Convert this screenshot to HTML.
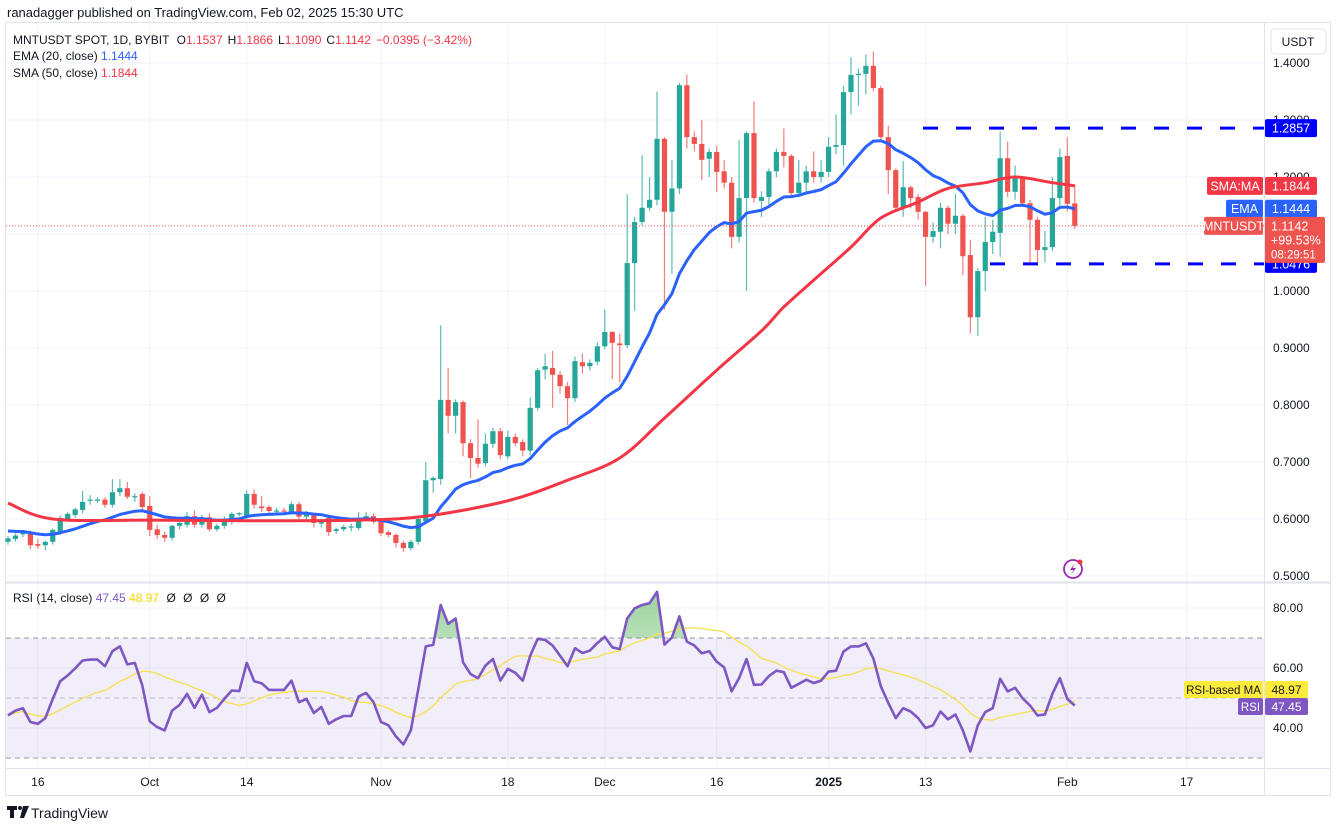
<!DOCTYPE html>
<html><head><meta charset="utf-8"><style>
html,body{margin:0;padding:0;background:#fff;}
svg{display:block;font-family:"Liberation Sans",sans-serif;}
</style></head><body>
<svg id="chart" width="1337" height="829" viewBox="0 0 1337 829" xmlns="http://www.w3.org/2000/svg">
<text x="7" y="17" font-size="13" fill="#131722">ranadagger published on TradingView.com, Feb 02, 2025 15:30 UTC</text>
<rect x="5.5" y="22.5" width="1325" height="773" fill="none" stroke="#e0e3eb"/>
<g id="grid"></g>
<rect x="6" y="638" width="1258" height="120" fill="#7e57c2" fill-opacity="0.1"/>
<line x1="6" y1="638" x2="1264" y2="638" stroke="#9598a1" stroke-dasharray="5,4"/>
<line x1="6" y1="698" x2="1264" y2="698" stroke="#9598a1" stroke-opacity="0.6" stroke-dasharray="5,4"/>
<line x1="6" y1="758" x2="1264" y2="758" stroke="#9598a1" stroke-dasharray="5,4"/>
<g id="candles"></g>
<g id="lines"></g>
<g id="rsi"></g>
<line x1="6" y1="582.5" x2="1330" y2="582.5" stroke="#e0e3eb" stroke-width="2"/>
<line x1="1264.5" y1="23" x2="1264.5" y2="795" stroke="#e0e3eb"/>
<line x1="6" y1="768.5" x2="1330" y2="768.5" stroke="#e0e3eb"/>
<g id="axes"></g>
<g font-size="12">
<text x="13" y="44" fill="#131722">MNTUSDT SPOT, 1D, BYBIT <tspan dx="4">O</tspan><tspan fill="#f23645">1.1537</tspan><tspan dx="5">H</tspan><tspan fill="#f23645">1.1866</tspan><tspan dx="5">L</tspan><tspan fill="#f23645">1.1090</tspan><tspan dx="5">C</tspan><tspan fill="#f23645">1.1142</tspan><tspan dx="5" fill="#f23645">−0.0395 (−3.42%)</tspan></text>
<text x="13" y="60" fill="#131722">EMA (20, close) <tspan fill="#2962ff">1.1444</tspan></text>
<text x="13" y="77" fill="#131722">SMA (50, close) <tspan fill="#f23645">1.1844</tspan></text>
<text x="13" y="602" fill="#131722">RSI (14, close) <tspan fill="#7e57c2">47.45</tspan> <tspan fill="#f5d800">48.97</tspan> <tspan dx="4">Ø</tspan> <tspan dx="4">Ø</tspan> <tspan dx="4">Ø</tspan> <tspan dx="4">Ø</tspan></text>
</g>
<rect x="1271" y="29" width="55" height="25" rx="4" fill="#fff" stroke="#e0e3eb"/>
<text x="1298" y="46" font-size="12" text-anchor="middle" fill="#131722">USDT</text>
<g>
<circle cx="1073" cy="569" r="9" fill="none" stroke="#9c27b0" stroke-width="1.8"/>
<path d="M1075 563 L1070 570 L1073.5 570 L1071 575 L1076 568 L1072.5 568 Z" fill="#9c27b0"/>
<circle cx="1080" cy="562" r="2.5" fill="#f23645"/>
</g>
<g>
<path d="M7 806 h10 v4 h-3 v8 h-4 v-8 h-3 z" fill="#131722"/>
<circle cx="20" cy="808" r="2" fill="#131722"/>
<path d="M23 806 h6 l-5 12 h-4 z" fill="#131722"/>
<text x="31" y="818" font-size="14" fill="#131722">TradingView</text>
</g>
</svg>
<script>
const opens=[.560,.565,.573,.577,.556,.554,.560,.577,.600,.607,.616,.633,.633,.634,.625,.647,.654,.639,.644,.623,.582,.572,.567,.588,.590,.605,.590,.603,.582,.588,.596,.609,.604,.644,.622,.621,.614,.615,.613,.626,.604,.607,.592,.602,.579,.582,.586,.584,.600,.605,.598,.577,.572,.558,.549,.560,.596,.668,.670,.809,.781,.805,.733,.707,.698,.732,.754,.710,.744,.735,.720,.795,.862,.865,.853,.833,.812,.875,.868,.876,.903,.928,.908,.905,1.049,1.121,1.146,1.160,1.267,1.139,1.180,1.361,1.270,1.258,1.232,1.244,1.210,1.190,1.095,1.163,1.277,1.158,1.165,1.210,1.244,1.237,1.172,1.190,1.210,1.200,1.209,1.253,1.256,1.349,1.379,1.381,1.395,1.356,1.270,1.212,1.146,1.182,1.165,1.139,1.095,1.104,1.146,1.118,1.132,1.063,.954,1.035,1.086,1.102,1.233,1.174,1.198,1.154,1.125,1.072,1.077,1.163,1.237,1.1537];
const highs=[.570,.575,.580,.580,.565,.562,.583,.606,.612,.620,.649,.642,.638,.638,.670,.670,.665,.645,.648,.640,.590,.578,.590,.597,.612,.615,.607,.610,.592,.605,.612,.612,.650,.652,.640,.624,.620,.620,.630,.630,.614,.610,.600,.606,.585,.590,.592,.612,.612,.610,.600,.580,.575,.562,.563,.605,.700,.675,.940,.865,.810,.808,.740,.775,.750,.760,.760,.755,.750,.740,.813,.865,.890,.895,.860,.840,.885,.890,.880,.910,.967,.930,.925,1.170,1.130,1.238,1.200,1.350,1.270,1.230,1.365,1.380,1.280,1.300,1.250,1.255,1.230,1.200,1.265,1.280,1.333,1.175,1.215,1.250,1.285,1.240,1.230,1.220,1.245,1.230,1.270,1.310,1.360,1.410,1.390,1.415,1.420,1.360,1.290,1.215,1.228,1.185,1.170,1.140,1.120,1.155,1.150,1.170,1.135,1.090,1.040,1.130,1.125,1.280,1.262,1.220,1.200,1.160,1.130,1.105,1.200,1.250,1.270,1.1866];
const lows=[.555,.560,.568,.547,.548,.545,.555,.572,.596,.602,.610,.625,.628,.620,.620,.640,.635,.630,.615,.570,.565,.560,.562,.582,.585,.585,.585,.578,.578,.583,.590,.605,.600,.618,.612,.606,.610,.608,.608,.600,.598,.585,.585,.570,.574,.578,.578,.580,.596,.592,.570,.568,.550,.542,.545,.555,.590,.646,.660,.750,.750,.710,.672,.690,.692,.725,.705,.705,.728,.710,.712,.790,.845,.795,.820,.765,.805,.855,.860,.870,.898,.845,.840,.900,.965,1.115,1.140,1.150,.967,1.030,1.170,1.250,1.245,1.195,1.200,1.174,1.180,1.075,1.085,1.000,1.155,1.130,1.150,1.200,1.217,1.165,1.165,1.170,1.190,1.190,1.200,1.240,1.220,1.310,1.325,1.345,1.350,1.265,1.170,1.140,1.130,1.145,1.125,1.009,1.085,1.075,1.100,1.100,1.028,.926,.921,1.000,1.065,1.060,1.165,1.160,1.150,1.050,1.050,1.050,1.070,1.150,1.140,1.109];
const closes=[.566,.571,.577,.554,.553,.560,.581,.602,.609,.617,.630,.634,.634,.625,.647,.654,.639,.640,.621,.581,.572,.567,.588,.593,.605,.590,.603,.582,.588,.600,.609,.610,.644,.625,.619,.614,.615,.614,.626,.604,.610,.593,.598,.577,.582,.586,.587,.602,.605,.595,.575,.572,.558,.549,.560,.600,.668,.672,.809,.781,.805,.733,.707,.697,.732,.754,.712,.744,.733,.720,.795,.861,.868,.853,.833,.812,.877,.868,.874,.903,.928,.909,.905,1.049,1.121,1.146,1.160,1.267,1.139,1.180,1.361,1.270,1.258,1.230,1.244,1.209,1.190,1.095,1.163,1.277,1.163,1.165,1.210,1.244,1.237,1.172,1.190,1.210,1.200,1.209,1.253,1.256,1.349,1.379,1.381,1.395,1.356,1.270,1.212,1.146,1.182,1.163,1.139,1.095,1.105,1.146,1.118,1.132,1.061,.954,1.035,1.086,1.104,1.233,1.174,1.198,1.154,1.125,1.072,1.077,1.163,1.235,1.153,1.1142];
const smaIdx=[0,6,19,32,47,56,67,75,82,88,95,101,104,108,113,117,122,126,131,135,140,143];
const smaVals=[.628,.600,.598,.597,.598,.605,.632,.668,.707,.777,.861,.930,.972,1.019,1.077,1.128,1.156,1.180,1.190,1.200,1.190,1.1844];
const rsiVals=[44.2,45.8,46.6,42.0,41.4,43.3,49.7,55.6,57.5,59.9,62.5,62.8,62.8,60.6,65.6,67.2,61.2,61.7,54.2,42.2,40.3,39.2,45.8,47.7,51.4,46.7,51.1,45.3,46.7,49.7,52.5,52.3,61.7,55.6,54.9,52.7,52.7,52.7,55.8,48.6,49.7,45.0,47.0,41.4,42.9,44.0,44.0,50.5,51.7,48.6,42.0,40.9,37.2,34.5,39.2,53.0,67.2,67.7,81.0,74.7,76.5,61.9,58.0,56.6,60.8,63.0,55.8,59.7,58.4,55.8,64.1,69.7,69.4,67.5,64.1,60.6,66.6,65.0,65.8,68.3,70.4,66.9,66.3,76.5,79.9,81.0,81.6,85.4,67.8,70.2,77.2,68.8,67.5,64.9,65.6,62.1,60.2,52.2,56.6,63.0,54.4,54.5,57.3,59.1,58.6,53.4,54.7,56.1,55.0,55.8,58.8,59.1,65.5,67.2,67.2,68.2,63.2,53.9,48.4,43.3,46.6,45.5,43.3,40.0,40.9,45.5,42.9,44.5,39.2,32.2,40.9,45.3,46.6,56.4,52.2,53.4,49.9,47.5,44.2,44.5,51.4,56.6,49.7,47.45];
const priceTicks=[1.4,1.3,1.2,1.1,1.0,0.9,0.8,0.7,0.6,0.5];
const priceTickLabels=["1.4000","1.3000","1.2000","","1.0000","0.9000","0.8000","0.7000","0.6000","0.5000"];
const rsiTicks=[80,60,40];
const timeTickIdx=[4,19,32,50,67,80,95,110,123,142,158];
const timeTickLabels=["16","Oct","14","Nov","18","Dec","16","2025","13","Feb","17"];
const resistance=1.2857, support=1.0476, ema0=0.579, emaLast=1.1444, rsiMaLast=48.97, rsiLast=47.45;

const NS="http://www.w3.org/2000/svg";
const xS=i=>8+i*7.46;
const yP=p=>291-(p-1)*570;
const yR=r=>698-(r-50)*3;
function mk(tag,attrs,parent){const e=document.createElementNS(NS,tag);for(const k in attrs)e.setAttribute(k,attrs[k]);parent.appendChild(e);return e;}
const grid=document.getElementById('grid'),cg=document.getElementById('candles'),lg=document.getElementById('lines'),rg=document.getElementById('rsi'),ax=document.getElementById('axes');

priceTicks.forEach((p,k)=>{
  const l=mk('line',{x1:6,x2:1264,y1:yP(p),y2:yP(p),stroke:'#f0f3fa'},grid);
  
  
  if(priceTickLabels[k]){const t=mk('text',{x:1273,y:yP(p)+4,'font-size':12,fill:'#131722'},ax);t.textContent=priceTickLabels[k];
  
  }
});
rsiTicks.forEach(r=>{
  const l=mk('line',{x1:6,x2:1264,y1:yR(r),y2:yR(r),stroke:'#f0f3fa'},grid);
  
  
  const t=mk('text',{x:1273,y:yR(r)+4,'font-size':12,fill:'#131722'},ax);t.textContent=r.toFixed(2);
  
  
});
timeTickIdx.forEach((i,k)=>{
  const x=xS(i);
  const l=mk('line',{x1:x,x2:x,y1:23,y2:768,stroke:'#f0f3fa'},grid);
  
  
  const t=mk('text',{x:x,y:786,'font-size':12,fill:'#131722','text-anchor':'middle','font-weight':timeTickLabels[k]==='2025'?'bold':'normal'},ax);t.textContent=timeTickLabels[k];
  
  
});

closes.forEach((c,i)=>{
  const o=opens[i],up=c>=o,col=up?'#26a69a':'#ef5350',x=xS(i);
  const g=mk('g',{},cg);
  
  
  mk('line',{x1:x,x2:x,y1:yP(highs[i]),y2:yP(lows[i]),stroke:col,'stroke-width':1.2,'stroke-opacity':0.75},g);
  const top=yP(Math.max(o,c)),h=Math.max(1.2,Math.abs(yP(o)-yP(c)));
  mk('rect',{x:x-2.6,y:top,width:5.2,height:h,fill:col},g);
});

let e=ema0;const emaPts=[];const kk=2/21;
closes.forEach((c,i)=>{if(i>0)e=c*kk+e*(1-kk);emaPts.push([xS(i),yP(e)]);});
let ema=mk('polyline',{points:emaPts.map(p=>p.join(',')).join(' '),fill:'none',stroke:'#2962ff','stroke-width':3,'stroke-linejoin':'round'},lg);


const sp=smaIdx.map((i,j)=>[xS(i),yP(smaVals[j])]);
let d='M'+sp[0][0]+' '+sp[0][1];
for(let j=0;j<sp.length-1;j++){const p0=sp[Math.max(0,j-1)],p1=sp[j],p2=sp[j+1],p3=sp[Math.min(sp.length-1,j+2)];
 const c1=[p1[0]+(p2[0]-p0[0])/6,p1[1]+(p2[1]-p0[1])/6],c2=[p2[0]-(p3[0]-p1[0])/6,p2[1]-(p3[1]-p1[1])/6];
 d+=' C'+c1[0]+' '+c1[1]+' '+c2[0]+' '+c2[1]+' '+p2[0]+' '+p2[1];}
let sma=mk('path',{d:d,fill:'none',stroke:'#f23645','stroke-width':3},lg);



let r1=mk('line',{x1:923,x2:1264,y1:yP(resistance),y2:yP(resistance),stroke:'#0000ff','stroke-width':3,'stroke-dasharray':'15,18'},lg);


let s1=mk('line',{x1:990,x2:1264,y1:yP(support),y2:yP(support),stroke:'#0000ff','stroke-width':3,'stroke-dasharray':'15,18'},lg);


const last=closes[closes.length-1];
let pl=mk('line',{x1:6,x2:1264,y1:yP(last),y2:yP(last),stroke:'#ef5350','stroke-width':1,'stroke-dasharray':'1,2'},lg);



const rp=rsiVals.map((r,i)=>[xS(i),yR(r)]);
const clip=mk('clipPath',{id:'ob'},rg);mk('rect',{x:0,y:560,width:1264,height:78},clip);
let fillD='M'+rp[0][0]+' 638 '+rp.map(p=>'L'+p[0]+' '+p[1]).join(' ')+' L'+rp[rp.length-1][0]+' 638 Z';
const defs=mk('defs',{},rg);const gr=mk('linearGradient',{id:'gg',x1:0,y1:0,x2:0,y2:1},defs);
mk('stop',{offset:0,'stop-color':'#4caf50','stop-opacity':0.55},gr);mk('stop',{offset:1,'stop-color':'#4caf50','stop-opacity':0.05},gr);
let ob=mk('path',{d:fillD,fill:'url(#gg)','clip-path':'url(#ob)'},rg);


const ma=rsiVals.map((r,i)=>{const s=rsiVals.slice(Math.max(0,i-13),i+1);return s.reduce((a,b)=>a+b,0)/s.length;});
let mal=mk('polyline',{points:ma.map((m,i)=>xS(i)+','+yR(m)).join(' '),fill:'none',stroke:'#f7e04b','stroke-width':1.3},rg);


let rl=mk('polyline',{points:rp.map(p=>p.join(',')).join(' '),fill:'none',stroke:'#7e57c2','stroke-width':2.6,'stroke-linejoin':'round'},rg);



function tag(x,y,w,h,bg,txt,col,name,fs){const g=mk('g',{},ax);mk('rect',{x:x,y:y,width:w,height:h,rx:2,fill:bg},g);const t=mk('text',{x:x+w/2,y:y+h/2+4.5,'font-size':fs||12.5,fill:col,'text-anchor':'middle'},g);t.textContent=txt;return g;}
tag(1265,yP(resistance)-9,52,18,'#0000ff','1.2857','#fff','resistance-price-label');
tag(1265,yP(support)-9,52,18,'#0000ff','1.0476','#fff','support-price-label');
const smaLast=smaVals[smaVals.length-1];
tag(1207,yP(smaLast)-9,56,18,'#f23645','SMA:MA','#fff','sma-name-label');
tag(1265,yP(smaLast)-9,52,18,'#f23645',smaLast.toFixed(4),'#fff','sma-price-label');
tag(1226,yP(emaLast)-9,37,18,'#2962ff','EMA','#fff','ema-name-label');
tag(1265,yP(emaLast)-9,52,18,'#2962ff',emaLast.toFixed(4),'#fff','ema-price-label');
tag(1204,yP(last)-9,59,18,'#ef5350','MNTUSDT','#fff','symbol-name-label');
const pg=mk('g',{},ax);
mk('rect',{x:1265,y:yP(last)-9,width:60,height:46,rx:2,fill:'#ef5350'},pg);
[['1.1142',0],['+99.53%',14],['08:29:51',28]].forEach(([s,dy])=>{const t=mk('text',{x:1271,y:yP(last)+4.5+dy,'font-size':dy===28?11.5:12.5,fill:'#fff'},pg);t.textContent=s;});
tag(1184,681,79,17,'#ffeb3b','RSI-based MA','#131722','rsi-ma-name-label',11.5);
tag(1265,681,43,17,'#ffeb3b',rsiMaLast.toFixed(2),'#131722','rsi-ma-value-label',12);
tag(1238,698,25,17,'#7e57c2','RSI','#fff','rsi-name-label',11.5);
tag(1265,698,43,17,'#7e57c2',rsiLast.toFixed(2),'#fff','rsi-value-label',12);
</script>
</body></html>
